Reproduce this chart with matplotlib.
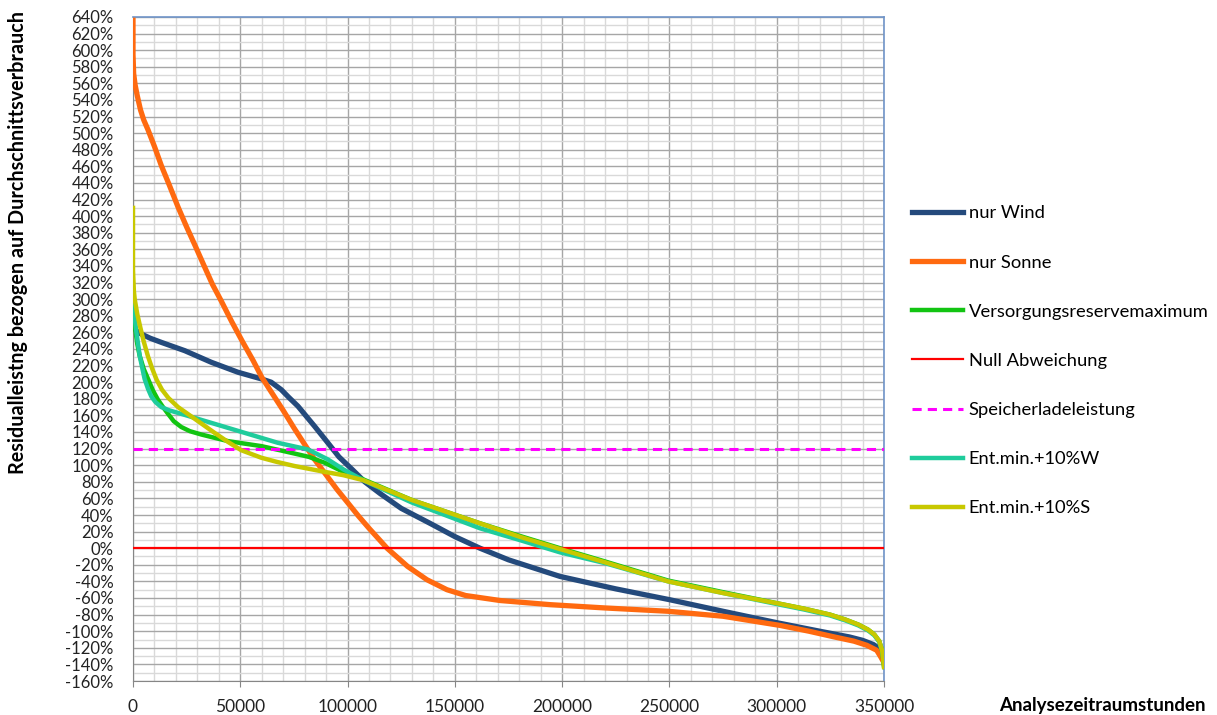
import matplotlib.pyplot as plt
from matplotlib.ticker import MultipleLocator, FuncFormatter

# Werte (x in Stunden, y in %)
x_wind = [0, 1500, 3900, 8000, 13200, 24100, 36500, 48900, 59800, 64400, 69100, 72500, 76900,
          84600, 90800, 96000, 102500, 108000, 115100, 125000, 138400, 150000, 161700, 175000,
          199000, 225000, 250000, 275000, 300500, 320000, 334000, 340000, 345000, 348500, 350000]
y_wind = [270, 262, 258, 253, 248, 238, 224, 212, 204, 200, 191, 182, 171,
          147, 127, 110, 94, 80, 66, 48, 30, 14, 0, -14,
          -34, -49, -62, -76, -90, -100, -107, -111, -116, -122, -128]

x_sun = [0, 0, 300, 1000, 2000, 3500, 5000, 7000, 10000, 13200, 17000, 21000, 25000, 28700,
         33000, 37000, 41100, 46000, 51000, 56000, 60000, 65000, 70000, 75000, 80000, 84600,
         90400, 95000, 99700, 105000, 110000, 118400, 128000, 137000, 146300, 155000, 171000,
         194300, 220000, 249400, 275000, 301500, 315000, 327000, 336000, 342000, 346600,
         348500, 350000]
y_sun = [636, 595, 572, 558, 545, 528, 516, 504, 484, 461, 437, 411, 387, 366,
         341, 318, 298, 273, 249, 226, 206, 186, 166, 145, 125, 107,
         87, 71, 56, 39, 24, 0, -22, -38, -50, -57, -63,
         -68, -72, -76, -82, -93, -100, -107, -112, -117, -123,
         -131, -138]

x_green = [0, 300, 1000, 2000, 3100, 5000, 7000, 9300, 11600, 14000, 16300, 19000, 22500,
           26500, 31800, 38000, 44300, 52000, 59800, 68500, 75300, 82000, 89300, 98000, 107200,
           130000, 161700, 180000, 199000, 220000, 249400, 275000, 301500, 313000, 324800,
           332000, 338000, 342500, 345500, 347800, 349200, 350000]
y_green = [300, 285, 265, 246, 232, 216, 204, 190, 179, 170, 162, 153, 146,
           141, 137, 133, 129, 126, 123, 118, 114, 110, 103, 92, 83,
           58, 30, 15, 0, -16, -39, -53, -67, -73, -80,
           -86, -92, -98, -104, -112, -124, -143]

x_null = [0, 350000]
y_null = [0, 0]

x_speicher = [0, 350000]
y_speicher = [120, 120]

x_teal = [0, 300, 1600, 3100, 5400, 7000, 8500, 10500, 13200, 17000, 21000, 36500, 52000,
          67500, 81500, 90800, 98000, 107200, 130000, 161700, 180000, 199000, 220000, 249400,
          275000, 301500, 313000, 324800, 332000, 338000, 342500, 345500, 347800, 349200, 350000]
y_teal = [311, 288, 260, 232, 204, 192, 183, 176, 170, 166, 163, 151, 139,
          127, 119, 107, 95, 82, 55, 24, 10, -5, -18, -40,
          -54, -68, -74, -81, -87, -93, -99, -105, -113, -124, -140]

x_yel = [0, 0, 400, 800, 2000, 3500, 5000, 7000, 9000, 11000, 13500, 16500, 21000, 28700,
         38000, 44300, 50500, 59800, 67000, 75300, 89300, 98000, 107200, 130000, 161700,
         180000, 199000, 220000, 249400, 275000, 301500, 313000, 324800, 332000, 338000,
         342500, 345500, 347800, 349200, 350000]
y_yel = [410, 335, 310, 300, 282, 265, 249, 231, 216, 203, 191, 181, 170, 156,
         139, 128, 118, 109, 104, 99, 92, 88, 82, 58, 30,
         14, -1, -17, -40, -54, -67, -73, -80, -86, -92,
         -98, -104, -112, -124, -143]

plt.rcParams['font.family'] = ['Lato', 'DejaVu Sans']

fig = plt.figure(figsize=(12.17, 7.15), dpi=100)
ax = fig.add_axes([133/1217, 1-681/715, (884-133)/1217, (681-17)/715])

ax.plot(x_wind, y_wind, color='#244a7c', lw=3.8, label='nur Wind', zorder=3)
ax.plot(x_sun, y_sun, color='#ff6a10', lw=3.8, label='nur Sonne', zorder=3)
ax.plot(x_green, y_green, color='#12c412', lw=3.2, label='Versorgungsreservemaximum', zorder=3)
ax.plot(x_null, y_null, color='#ff0000', lw=1.6, label='Null Abweichung', zorder=3)
ax.plot(x_speicher, y_speicher, color='#ff00ff', lw=2.2, ls=(0, (3, 2)), label='Speicherladeleistung', zorder=3)
ax.plot(x_teal, y_teal, color='#1fcc9c', lw=3.2, label='Ent.min.+10%W', zorder=3)
ax.plot(x_yel, y_yel, color='#c8c800', lw=3.2, label='Ent.min.+10%S', zorder=3)

ax.set_xlim(0, 350000)
ax.set_ylim(-160, 640)
ax.xaxis.set_major_locator(MultipleLocator(50000))
ax.xaxis.set_minor_locator(MultipleLocator(10000))
ax.yaxis.set_major_locator(MultipleLocator(20))
ax.yaxis.set_minor_locator(MultipleLocator(10))
ax.yaxis.set_major_formatter(FuncFormatter(lambda v, p: f"{int(round(v))}%"))
ax.xaxis.set_major_formatter(FuncFormatter(lambda v, p: f"{int(v)}"))

ax.grid(which='major', color='#a6a6a6', lw=1.0, zorder=0)
ax.grid(which='minor', color='#d9d9d9', lw=1.0, zorder=0)
ax.set_axisbelow(True)

ax.tick_params(axis='x', which='major', length=4, color='#868686', pad=9, labelsize=12.5, labelcolor='#222222')
ax.tick_params(axis='y', which='major', length=0, pad=14, labelsize=12, labelcolor='#222222')
ax.tick_params(which='minor', length=0)

for s in ['left', 'bottom']:
    ax.spines[s].set_color('#868686')
for s in ['top', 'right']:
    ax.spines[s].set_color('#6f94c8')
    ax.spines[s].set_linewidth(1.2)

fig.text(18/1217, 1-242/715, 'Residualleistng bezogen auf Durchschnittsverbrauch', rotation=90,
         ha='center', va='center', fontsize=14.2, fontweight='bold')
fig.text(1102/1217, 1-706/715, 'Analysezeitraumstunden', ha='center', va='center',
         fontsize=13.5, fontweight='bold')

fig.legend(loc='upper left', bbox_to_anchor=(905/1217, 1-198/715), frameon=False,
           fontsize=13.2, handlelength=2.75, handletextpad=0.33, labelspacing=1.81, borderaxespad=0)

fig.savefig('out.png', dpi=100)
